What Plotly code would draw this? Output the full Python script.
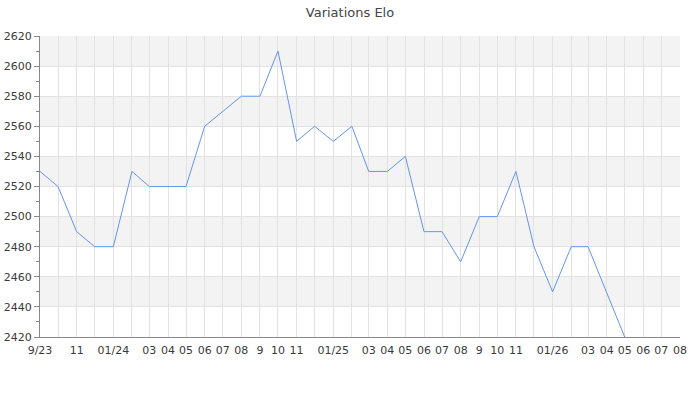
import plotly.graph_objects as go

months = ["2023-09-01", "2023-10-01", "2023-11-01", "2023-12-01", "2024-01-01", "2024-02-01",
          "2024-03-01", "2024-04-01", "2024-05-01", "2024-06-01", "2024-07-01", "2024-08-01",
          "2024-09-01", "2024-10-01", "2024-11-01", "2024-12-01", "2025-01-01", "2025-02-01",
          "2025-03-01", "2025-04-01", "2025-05-01", "2025-06-01", "2025-07-01", "2025-08-01",
          "2025-09-01", "2025-10-01", "2025-11-01", "2025-12-01", "2026-01-01", "2026-02-01",
          "2026-03-01", "2026-04-01", "2026-05-01"]
elo = [2530, 2520, 2490, 2480, 2480, 2530, 2520, 2520, 2520, 2560, 2570, 2580,
       2580, 2610, 2550, 2560, 2550, 2560, 2530, 2530, 2540, 2490, 2490, 2470,
       2500, 2500, 2530, 2480, 2450, 2480, 2480, 2450, 2420]

tick_vals = ["2023-09-01", "2023-10-01", "2023-11-01", "2023-12-01", "2024-01-01", "2024-02-01",
             "2024-03-01", "2024-04-01", "2024-05-01", "2024-06-01", "2024-07-01", "2024-08-01",
             "2024-09-01", "2024-10-01", "2024-11-01", "2024-12-01", "2025-01-01", "2025-02-01",
             "2025-03-01", "2025-04-01", "2025-05-01", "2025-06-01", "2025-07-01", "2025-08-01",
             "2025-09-01", "2025-10-01", "2025-11-01", "2025-12-01", "2026-01-01", "2026-02-01",
             "2026-03-01", "2026-04-01", "2026-05-01", "2026-06-01", "2026-07-01", "2026-08-01"]
tick_text = ["9/23", "", "11", "", "01/24", "", "03", "04", "05", "06", "07", "08",
             "9", "10", "11", "", "01/25", "", "03", "04", "05", "06", "07", "08",
             "9", "10", "11", "", "01/26", "", "03", "04", "05", "06", "07", "08"]

y_min, y_max, y_step = 2420, 2620, 20

fig = go.Figure()
fig.add_trace(go.Scatter(x=months, y=elo, mode="lines",
                         line=dict(color="#6495ED", width=1), hoverinfo="x+y"))

shapes = []
band_edges = list(range(y_max, y_min, -y_step))
for i, top in enumerate(band_edges):
    if i % 2 == 0:
        shapes.append(dict(type="rect", xref="paper", yref="y", x0=0, x1=1,
                           y0=top - y_step, y1=top, fillcolor="#f3f3f3",
                           line=dict(width=0), layer="below"))

fig.update_layout(
    width=700, height=400,
    margin=dict(l=40, r=20, t=36, b=63, autoexpand=False),
    paper_bgcolor="white", plot_bgcolor="white",
    font=dict(family="DejaVu Sans", size=11, color="#3a3a3a"),
    title=dict(text="Variations Elo", x=0.5, xanchor="center",
               yref="container", y=0.97, yanchor="middle", automargin=False,
               font=dict(family="DejaVu Sans", size=13, color="#444")),
    showlegend=False,
    shapes=shapes,
    xaxis=dict(type="date", range=[tick_vals[0], tick_vals[-1]],
               tickmode="array", tickvals=tick_vals, ticktext=tick_text,
               showgrid=True, gridcolor="#e2e2e2", gridwidth=1,
               showline=True, linecolor="#888", linewidth=1,
               ticks="", zeroline=False, tickangle=0, automargin=False,
               ticklabelstandoff=3),
    yaxis=dict(range=[y_min, y_max], dtick=y_step, tick0=y_min,
               showgrid=True, gridcolor="#e2e2e2", gridwidth=1,
               showline=True, linecolor="#888", linewidth=1,
               ticks="outside", ticklen=5, tickcolor="#888",
               minor=dict(dtick=10, ticks="outside", ticklen=3, tickcolor="#888", showgrid=False),
               zeroline=False, automargin=False),
)

fig.write_html("out.html", config={"displayModeBar": False},
               post_script="document.body.style.margin='0';")
